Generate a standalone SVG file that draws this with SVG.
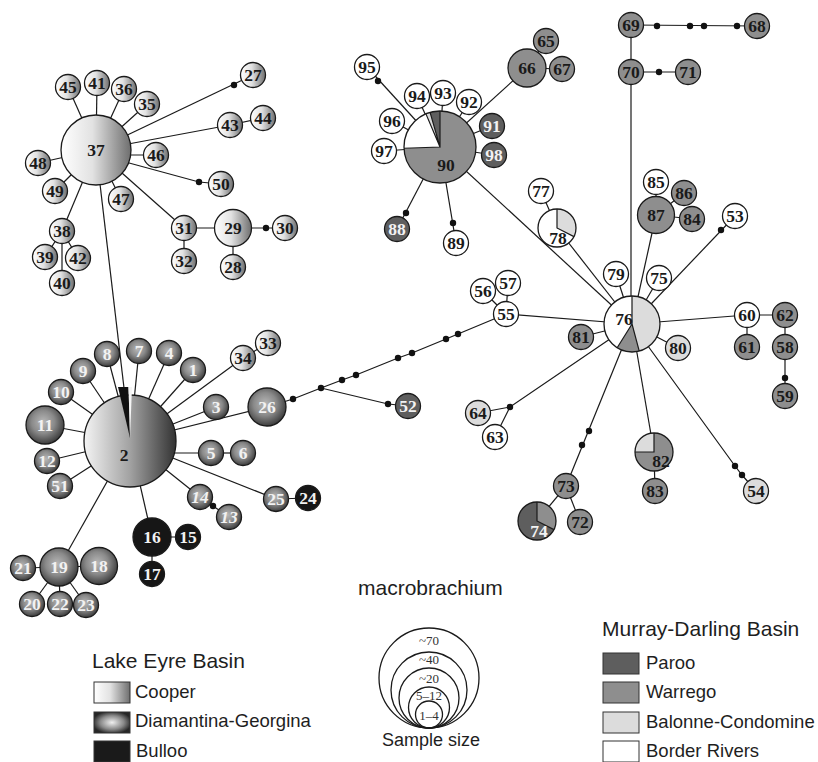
<svg xmlns="http://www.w3.org/2000/svg" width="818" height="762" viewBox="0 0 818 762">
<defs>
<linearGradient id="gCoop" x1="0" y1="0" x2="1" y2="0"><stop offset="0" stop-color="#ffffff"/><stop offset="0.45" stop-color="#e2e2e2"/><stop offset="1" stop-color="#6e6e6e"/></linearGradient>
<linearGradient id="g2" x1="0" y1="0" x2="1" y2="0"><stop offset="0" stop-color="#f4f4f4"/><stop offset="0.5" stop-color="#a2a2a2"/><stop offset="1" stop-color="#333333"/></linearGradient>
<radialGradient id="gDia" cx="0.45" cy="0.42" r="0.6"><stop offset="0" stop-color="#b8b8b8"/><stop offset="0.5" stop-color="#8a8a8a"/><stop offset="1" stop-color="#383838"/></radialGradient>
<radialGradient id="gDiaL" cx="0.5" cy="0.5" r="0.55"><stop offset="0" stop-color="#f0f0f0"/><stop offset="0.6" stop-color="#888888"/><stop offset="1" stop-color="#262626"/></radialGradient>
<style>
.e{stroke:#1a1a1a;stroke-width:1.2;fill:none}
.d{fill:#111111}
.n{stroke:#1a1a1a;stroke-width:1.3}
.o{fill:none;stroke:#1a1a1a;stroke-width:1.3}
.coop{fill:url(#gCoop)}
.dia{fill:url(#gDia)}
.bul{fill:#161616}
.par{fill:#5e5e5e}
.war{fill:#8e8e8e}
.bal{fill:#dcdcdc}
.bor{fill:#ffffff}
.t{font-family:"Liberation Serif","Times New Roman",serif;font-weight:bold;font-size:17.5px;text-anchor:middle}
.td{fill:#1a1a1a}
.tl{fill:#f2f2f2}
.it{font-style:italic}
.lg{font-family:"Liberation Sans",Arial,sans-serif;fill:#1e1e1e}
.h{font-size:21px}
.li{font-size:18.5px}
.box{stroke:#333333;stroke-width:1}
.ss{font-family:"Liberation Serif","Times New Roman",serif;font-size:13px;fill:#333333;text-anchor:middle}
</style>
</defs>
<rect width="818" height="762" fill="#ffffff"/>
<g id="connectors">
<line class="e" x1="96" y1="150" x2="68" y2="87"/>
<line class="e" x1="96" y1="150" x2="97" y2="83"/>
<line class="e" x1="96" y1="150" x2="124" y2="89"/>
<line class="e" x1="96" y1="150" x2="147" y2="104"/>
<line class="e" x1="96" y1="150" x2="253" y2="75"/>
<line class="e" x1="96" y1="150" x2="230" y2="125"/>
<line class="e" x1="230" y1="125" x2="263" y2="118"/>
<line class="e" x1="96" y1="155" x2="156" y2="155"/>
<polyline class="e" points="96,154 199,182 221,184"/>
<line class="e" x1="96" y1="150" x2="121" y2="199"/>
<line class="e" x1="96" y1="150" x2="38" y2="163"/>
<line class="e" x1="96" y1="150" x2="55" y2="191"/>
<line class="e" x1="96" y1="150" x2="62" y2="231"/>
<line class="e" x1="62" y1="231" x2="45" y2="257"/>
<line class="e" x1="62" y1="231" x2="78" y2="258"/>
<line class="e" x1="62" y1="231" x2="62" y2="283"/>
<line class="e" x1="96" y1="150" x2="184" y2="228"/>
<line class="e" x1="184" y1="228" x2="184" y2="261"/>
<line class="e" x1="184" y1="228" x2="233" y2="228"/>
<line class="e" x1="233" y1="228" x2="285" y2="228"/>
<line class="e" x1="233" y1="228" x2="233" y2="267"/>
<line class="e" x1="96" y1="150" x2="124" y2="388"/>
<line class="e" x1="130" y1="441" x2="107" y2="354"/>
<line class="e" x1="130" y1="441" x2="139" y2="351"/>
<line class="e" x1="130" y1="441" x2="169" y2="353"/>
<line class="e" x1="130" y1="441" x2="193" y2="370"/>
<line class="e" x1="130" y1="441" x2="83" y2="371"/>
<line class="e" x1="130" y1="441" x2="61" y2="392"/>
<line class="e" x1="130" y1="441" x2="45" y2="425"/>
<line class="e" x1="130" y1="441" x2="47" y2="461"/>
<line class="e" x1="130" y1="441" x2="60" y2="486"/>
<line class="e" x1="130" y1="441" x2="216" y2="407"/>
<line class="e" x1="130" y1="441" x2="267" y2="407"/>
<line class="e" x1="130" y1="453" x2="211" y2="453"/>
<line class="e" x1="211" y1="453" x2="243" y2="453"/>
<line class="e" x1="130" y1="441" x2="200" y2="497"/>
<line class="e" x1="200" y1="497" x2="229" y2="517"/>
<line class="e" x1="130" y1="441" x2="276" y2="499"/>
<line class="e" x1="276" y1="499" x2="308" y2="498"/>
<line class="e" x1="130" y1="441" x2="152" y2="537"/>
<line class="e" x1="152" y1="537" x2="188" y2="537"/>
<line class="e" x1="152" y1="537" x2="152" y2="574"/>
<line class="e" x1="130" y1="441" x2="59" y2="567"/>
<line class="e" x1="59" y1="567" x2="23" y2="568"/>
<line class="e" x1="59" y1="567" x2="99" y2="566"/>
<line class="e" x1="59" y1="567" x2="32" y2="604"/>
<line class="e" x1="59" y1="567" x2="60" y2="604"/>
<line class="e" x1="59" y1="567" x2="86" y2="605"/>
<line class="e" x1="130" y1="441" x2="243" y2="358"/>
<line class="e" x1="243" y1="358" x2="268" y2="343"/>
<polyline class="e" points="267,407 293,399 321,388 342,380 356,375 398,358 412,353 446,339 458,334 506,314"/>
<polyline class="e" points="321,388 388,404 408,406"/>
<line class="e" x1="440" y1="147" x2="367" y2="67"/>
<line class="e" x1="440" y1="147" x2="417" y2="96"/>
<line class="e" x1="440" y1="147" x2="443" y2="93"/>
<line class="e" x1="440" y1="147" x2="469" y2="102"/>
<line class="e" x1="440" y1="147" x2="392" y2="121"/>
<line class="e" x1="440" y1="147" x2="384" y2="151"/>
<line class="e" x1="440" y1="147" x2="492" y2="126"/>
<line class="e" x1="440" y1="147" x2="494" y2="155"/>
<line class="e" x1="440" y1="147" x2="397" y2="229"/>
<line class="e" x1="440" y1="147" x2="456" y2="243"/>
<line class="e" x1="440" y1="147" x2="527" y2="68"/>
<line class="e" x1="527" y1="68" x2="546" y2="41"/>
<line class="e" x1="527" y1="68" x2="562" y2="69"/>
<line class="e" x1="440" y1="147" x2="632" y2="324"/>
<line class="e" x1="631" y1="25" x2="757" y2="26"/>
<line class="e" x1="631" y1="25" x2="631" y2="72"/>
<line class="e" x1="631" y1="72" x2="688" y2="72"/>
<line class="e" x1="631" y1="72" x2="631" y2="310"/>
<line class="e" x1="632" y1="324" x2="557" y2="228"/>
<line class="e" x1="557" y1="228" x2="541" y2="191"/>
<line class="e" x1="632" y1="324" x2="656" y2="215"/>
<line class="e" x1="656" y1="215" x2="656" y2="182"/>
<line class="e" x1="656" y1="215" x2="684" y2="193"/>
<line class="e" x1="656" y1="215" x2="692" y2="219"/>
<line class="e" x1="632" y1="324" x2="735" y2="216"/>
<line class="e" x1="632" y1="324" x2="616" y2="274"/>
<line class="e" x1="632" y1="324" x2="659" y2="278"/>
<line class="e" x1="632" y1="324" x2="747" y2="315"/>
<line class="e" x1="747" y1="315" x2="785" y2="315"/>
<line class="e" x1="747" y1="315" x2="747" y2="347"/>
<line class="e" x1="785" y1="315" x2="785" y2="396"/>
<line class="e" x1="632" y1="324" x2="678" y2="348"/>
<line class="e" x1="632" y1="324" x2="581" y2="337"/>
<line class="e" x1="632" y1="324" x2="506" y2="314"/>
<line class="e" x1="506" y1="314" x2="483" y2="291"/>
<line class="e" x1="506" y1="314" x2="508" y2="283"/>
<polyline class="e" points="632,324 510,407 478,413"/>
<line class="e" x1="510" y1="407" x2="495" y2="437"/>
<line class="e" x1="632" y1="324" x2="566" y2="486"/>
<line class="e" x1="566" y1="486" x2="537" y2="521"/>
<line class="e" x1="566" y1="486" x2="580" y2="522"/>
<line class="e" x1="632" y1="324" x2="654" y2="452"/>
<line class="e" x1="654" y1="452" x2="655" y2="491"/>
<polyline class="e" points="632,324 735,466 742,475 756,491"/>
<circle class="d" cx="234" cy="85" r="3.2"/>
<circle class="d" cx="199" cy="182" r="3.2"/>
<circle class="d" cx="266" cy="228" r="3.2"/>
<circle class="d" cx="213" cy="506" r="3.2"/>
<circle class="d" cx="293" cy="399" r="3.2"/>
<circle class="d" cx="321" cy="388" r="3.2"/>
<circle class="d" cx="342" cy="380" r="3.2"/>
<circle class="d" cx="356" cy="375" r="3.2"/>
<circle class="d" cx="398" cy="358" r="3.2"/>
<circle class="d" cx="412" cy="353" r="3.2"/>
<circle class="d" cx="446" cy="339" r="3.2"/>
<circle class="d" cx="458" cy="334" r="3.2"/>
<circle class="d" cx="388" cy="404" r="3.2"/>
<circle class="d" cx="378" cy="81" r="3.2"/>
<circle class="d" cx="406" cy="213" r="3.2"/>
<circle class="d" cx="453" cy="223" r="3.2"/>
<circle class="d" cx="657" cy="26" r="3.2"/>
<circle class="d" cx="690" cy="26" r="3.2"/>
<circle class="d" cx="704" cy="26" r="3.2"/>
<circle class="d" cx="737" cy="26" r="3.2"/>
<circle class="d" cx="659" cy="72" r="3.2"/>
<circle class="d" cx="721" cy="230" r="3.2"/>
<circle class="d" cx="785" cy="378" r="3.2"/>
<circle class="d" cx="510" cy="407" r="3.2"/>
<circle class="d" cx="589" cy="431" r="3.2"/>
<circle class="d" cx="582" cy="445" r="3.2"/>
<circle class="d" cx="735" cy="466" r="3.2"/>
<circle class="d" cx="742" cy="475" r="3.2"/>
</g>
<g id="n37"><circle class="n coop" cx="96" cy="150" r="35"/><text class="t td" x="96" y="156">37</text></g>
<g id="n45"><circle class="n coop" cx="68" cy="87" r="12.5"/><text class="t td" x="68" y="93">45</text></g>
<g id="n41"><circle class="n coop" cx="97" cy="83" r="12.5"/><text class="t td" x="97" y="89">41</text></g>
<g id="n36"><circle class="n coop" cx="124" cy="89" r="12.5"/><text class="t td" x="124" y="95">36</text></g>
<g id="n35"><circle class="n coop" cx="147" cy="104" r="12.5"/><text class="t td" x="147" y="110">35</text></g>
<g id="n27"><circle class="n coop" cx="253" cy="75" r="12.5"/><text class="t td" x="253" y="81">27</text></g>
<g id="n43"><circle class="n coop" cx="230" cy="125" r="12.5"/><text class="t td" x="230" y="131">43</text></g>
<g id="n44"><circle class="n coop" cx="263" cy="118" r="12.5"/><text class="t td" x="263" y="124">44</text></g>
<g id="n46"><circle class="n coop" cx="156" cy="155" r="12.5"/><text class="t td" x="156" y="161">46</text></g>
<g id="n50"><circle class="n coop" cx="221" cy="184" r="12.5"/><text class="t td" x="221" y="190">50</text></g>
<g id="n47"><circle class="n coop" cx="121" cy="199" r="12.5"/><text class="t td" x="121" y="205">47</text></g>
<g id="n48"><circle class="n coop" cx="38" cy="163" r="12.5"/><text class="t td" x="38" y="169">48</text></g>
<g id="n49"><circle class="n coop" cx="55" cy="191" r="12.5"/><text class="t td" x="55" y="197">49</text></g>
<g id="n38"><circle class="n coop" cx="62" cy="231" r="12.5"/><text class="t td" x="62" y="237">38</text></g>
<g id="n39"><circle class="n coop" cx="45" cy="257" r="12.5"/><text class="t td" x="45" y="263">39</text></g>
<g id="n42"><circle class="n coop" cx="78" cy="258" r="12.5"/><text class="t td" x="78" y="264">42</text></g>
<g id="n40"><circle class="n coop" cx="62" cy="283" r="12.5"/><text class="t td" x="62" y="289">40</text></g>
<g id="n31"><circle class="n coop" cx="184" cy="228" r="12.5"/><text class="t td" x="184" y="234">31</text></g>
<g id="n32"><circle class="n coop" cx="184" cy="261" r="12.5"/><text class="t td" x="184" y="267">32</text></g>
<g id="n29"><circle class="n coop" cx="233" cy="228" r="18.5"/><text class="t td" x="233" y="234">29</text></g>
<g id="n28"><circle class="n coop" cx="233" cy="267" r="12.5"/><text class="t td" x="233" y="273">28</text></g>
<g id="n30"><circle class="n coop" cx="285" cy="228" r="12.5"/><text class="t td" x="285" y="234">30</text></g>
<g id="n34"><circle class="n coop" cx="243" cy="358" r="12.5"/><text class="t td" x="243" y="364">34</text></g>
<g id="n33"><circle class="n coop" cx="268" cy="343" r="12.5"/><text class="t td" x="268" y="349">33</text></g>
<g id="n2"><circle class="n" fill="url(#g2)" cx="130" cy="441" r="46"/><polygon fill="#111111" points="130,438 118,387 128.5,387"/><polygon fill="#f4f4f4" points="130,438 128.5,387 132,387"/><text class="t td" x="124" y="461">2</text></g>
<g id="n1"><circle class="n dia" cx="193" cy="370" r="12.5"/><text class="t tl" x="193" y="376">1</text></g>
<g id="n3"><circle class="n dia" cx="216" cy="407" r="12.5"/><text class="t tl" x="216" y="413">3</text></g>
<g id="n4"><circle class="n dia" cx="169" cy="353" r="12.5"/><text class="t tl" x="169" y="359">4</text></g>
<g id="n5"><circle class="n dia" cx="211" cy="453" r="12.5"/><text class="t tl" x="211" y="459">5</text></g>
<g id="n6"><circle class="n dia" cx="243" cy="453" r="12.5"/><text class="t tl" x="243" y="459">6</text></g>
<g id="n7"><circle class="n dia" cx="139" cy="351" r="12.5"/><text class="t tl" x="139" y="357">7</text></g>
<g id="n8"><circle class="n dia" cx="107" cy="354" r="12.5"/><text class="t tl" x="107" y="360">8</text></g>
<g id="n9"><circle class="n dia" cx="83" cy="371" r="12.5"/><text class="t tl" x="83" y="377">9</text></g>
<g id="n10"><circle class="n dia" cx="61" cy="392" r="12.5"/><text class="t tl" x="61" y="398">10</text></g>
<g id="n11"><circle class="n dia" cx="45" cy="425" r="19"/><text class="t tl" x="45" y="431">11</text></g>
<g id="n12"><circle class="n dia" cx="47" cy="461" r="12.5"/><text class="t tl" x="47" y="467">12</text></g>
<g id="n51"><circle class="n dia" cx="60" cy="486" r="12.5"/><text class="t tl" x="60" y="492">51</text></g>
<g id="n14"><circle class="n dia" cx="200" cy="497" r="12.5"/><text class="t tl it" x="200" y="503">14</text></g>
<g id="n13"><circle class="n dia" cx="229" cy="517" r="12.5"/><text class="t tl it" x="229" y="523">13</text></g>
<g id="n25"><circle class="n dia" cx="276" cy="499" r="12.5"/><text class="t tl" x="276" y="505">25</text></g>
<g id="n26"><circle class="n dia" cx="267" cy="407" r="19"/><text class="t tl" x="267" y="413">26</text></g>
<g id="n19"><circle class="n dia" cx="59" cy="567" r="19"/><text class="t tl" x="59" y="573">19</text></g>
<g id="n18"><circle class="n dia" cx="99" cy="566" r="18.5"/><text class="t tl" x="99" y="572">18</text></g>
<g id="n21"><circle class="n dia" cx="23" cy="568" r="12.5"/><text class="t tl" x="23" y="574">21</text></g>
<g id="n20"><circle class="n dia" cx="32" cy="604" r="12.5"/><text class="t tl" x="32" y="610">20</text></g>
<g id="n22"><circle class="n dia" cx="60" cy="604" r="12.5"/><text class="t tl" x="60" y="610">22</text></g>
<g id="n23"><circle class="n dia" cx="86" cy="605" r="12.5"/><text class="t tl" x="86" y="611">23</text></g>
<g id="n16"><circle class="n bul" cx="152" cy="537" r="19"/><text class="t tl" x="152" y="543">16</text></g>
<g id="n15"><circle class="n bul" cx="188" cy="537" r="12.5"/><text class="t tl" x="188" y="543">15</text></g>
<g id="n17"><circle class="n bul" cx="152" cy="574" r="12.5"/><text class="t tl" x="152" y="580">17</text></g>
<g id="n24"><circle class="n bul" cx="308" cy="498" r="12.5"/><text class="t tl" x="308" y="504">24</text></g>
<g id="n52"><circle class="n par" cx="408" cy="406" r="12.5"/><text class="t tl" x="408" y="412">52</text></g>
<g id="n90"><path class="war" d="M440,147 L440,111 A36,36 0 1,1 404.02,148.26 Z"/><path class="bor" d="M440,147 L404.02,148.26 A36,36 0 0,1 425.93,113.86 Z"/><path class="bal" d="M440,147 L425.93,113.86 A36,36 0 0,1 430.08,112.39 Z"/><path class="par" d="M440,147 L430.08,112.39 A36,36 0 0,1 440,111 Z"/><path class="e" d="M404.02,148.26 L440,147 L425.93,113.86 M430.08,112.39 L440,147 L440,111"/><circle class="o" cx="440" cy="147" r="36"/><text class="t td" x="446" y="171">90</text></g>
<g id="n95"><circle class="n bor" cx="367" cy="67" r="12.5"/><text class="t td" x="367" y="73">95</text></g>
<g id="n94"><circle class="n bor" cx="417" cy="96" r="12.5"/><text class="t td" x="417" y="102">94</text></g>
<g id="n93"><circle class="n bor" cx="443" cy="93" r="12.5"/><text class="t td" x="443" y="99">93</text></g>
<g id="n92"><circle class="n bor" cx="469" cy="102" r="12.5"/><text class="t td" x="469" y="108">92</text></g>
<g id="n96"><circle class="n bor" cx="392" cy="121" r="12.5"/><text class="t td" x="392" y="127">96</text></g>
<g id="n97"><circle class="n bor" cx="384" cy="151" r="12.5"/><text class="t td" x="384" y="157">97</text></g>
<g id="n91"><circle class="n par" cx="492" cy="126" r="12.5"/><text class="t tl" x="492" y="132">91</text></g>
<g id="n98"><circle class="n par" cx="494" cy="155" r="12.5"/><text class="t tl" x="494" y="161">98</text></g>
<g id="n88"><circle class="n par" cx="397" cy="229" r="12.5"/><text class="t tl" x="397" y="235">88</text></g>
<g id="n89"><circle class="n bor" cx="456" cy="243" r="12.5"/><text class="t td" x="456" y="249">89</text></g>
<g id="n66"><circle class="n war" cx="527" cy="68" r="19"/><text class="t td" x="527" y="74">66</text></g>
<g id="n65"><circle class="n war" cx="546" cy="41" r="12.5"/><text class="t td" x="546" y="47">65</text></g>
<g id="n67"><circle class="n war" cx="562" cy="69" r="12.5"/><text class="t td" x="562" y="75">67</text></g>
<g id="n69"><circle class="n war" cx="631" cy="25" r="12.5"/><text class="t td" x="631" y="31">69</text></g>
<g id="n68"><circle class="n war" cx="757" cy="26" r="12.5"/><text class="t td" x="757" y="32">68</text></g>
<g id="n70"><circle class="n war" cx="631" cy="72" r="12.5"/><text class="t td" x="631" y="78">70</text></g>
<g id="n71"><circle class="n war" cx="688" cy="72" r="12.5"/><text class="t td" x="688" y="78">71</text></g>
<g id="n77"><circle class="n bor" cx="541" cy="191" r="12.5"/><text class="t td" x="541" y="197">77</text></g>
<g id="n78"><path class="bal" d="M557,228 L557,209 A19,19 0 0,1 573.93,236.63 Z"/><path class="bor" d="M557,228 L573.93,236.63 A19,19 0 1,1 557,209 Z"/><path class="e" d="M557,209 L557,228 L573.93,236.63"/><circle class="o" cx="557" cy="228" r="19"/><text class="t td" x="558" y="244">78</text></g>
<g id="n85"><circle class="n bor" cx="656" cy="182" r="12.5"/><text class="t td" x="656" y="188">85</text></g>
<g id="n86"><circle class="n war" cx="684" cy="193" r="12.5"/><text class="t td" x="684" y="199">86</text></g>
<g id="n87"><circle class="n war" cx="656" cy="215" r="18.5"/><text class="t td" x="656" y="221">87</text></g>
<g id="n84"><circle class="n war" cx="692" cy="219" r="12.5"/><text class="t td" x="692" y="225">84</text></g>
<g id="n53"><circle class="n bor" cx="735" cy="216" r="12.5"/><text class="t td" x="735" y="222">53</text></g>
<g id="n79"><circle class="n bor" cx="616" cy="274" r="12.5"/><text class="t td" x="616" y="280">79</text></g>
<g id="n75"><circle class="n bor" cx="659" cy="278" r="12.5"/><text class="t td" x="659" y="284">75</text></g>
<g id="n76"><path class="bal" d="M632,324 L632,296 A28,28 0 0,1 639.25,351.05 Z"/><path class="war" d="M632,324 L639.25,351.05 A28,28 0 0,1 617.16,347.74 Z"/><path class="bor" d="M632,324 L617.16,347.74 A28,28 0 0,1 632,296 Z"/><path class="e" d="M632,296 L632,324 L639.25,351.05 M632,324 L617.16,347.74"/><circle class="o" cx="632" cy="324" r="28"/><text class="t td" x="624" y="325">76</text></g>
<g id="n55"><circle class="n bor" cx="506" cy="314" r="12.5"/><text class="t td" x="506" y="320">55</text></g>
<g id="n56"><circle class="n bor" cx="483" cy="291" r="12.5"/><text class="t td" x="483" y="297">56</text></g>
<g id="n57"><circle class="n bor" cx="508" cy="283" r="12.5"/><text class="t td" x="508" y="289">57</text></g>
<g id="n81"><circle class="n war" cx="581" cy="337" r="12.5"/><text class="t td" x="581" y="343">81</text></g>
<g id="n80"><circle class="n bal" cx="678" cy="348" r="12.5"/><text class="t td" x="678" y="354">80</text></g>
<g id="n60"><circle class="n bor" cx="747" cy="315" r="12.5"/><text class="t td" x="747" y="321">60</text></g>
<g id="n62"><circle class="n war" cx="785" cy="315" r="12.5"/><text class="t td" x="785" y="321">62</text></g>
<g id="n61"><circle class="n war" cx="747" cy="347" r="12.5"/><text class="t td" x="747" y="353">61</text></g>
<g id="n58"><circle class="n war" cx="785" cy="347" r="12.5"/><text class="t td" x="785" y="353">58</text></g>
<g id="n59"><circle class="n war" cx="785" cy="396" r="12.5"/><text class="t td" x="785" y="402">59</text></g>
<g id="n64"><circle class="n bal" cx="478" cy="413" r="12.5"/><text class="t td" x="478" y="419">64</text></g>
<g id="n63"><circle class="n bor" cx="495" cy="437" r="12.5"/><text class="t td" x="495" y="443">63</text></g>
<g id="n73"><circle class="n war" cx="566" cy="486" r="12.5"/><text class="t td" x="566" y="492">73</text></g>
<g id="n74"><path class="war" d="M537,521 L537,502 A19,19 0 0,1 553.93,529.63 Z"/><path class="par" d="M537,521 L553.93,529.63 A19,19 0 1,1 537,502 Z"/><path class="e" d="M537,502 L537,521 L553.93,529.63"/><circle class="o" cx="537" cy="521" r="19"/><text class="t tl" x="539" y="537">74</text></g>
<g id="n72"><circle class="n war" cx="580" cy="522" r="12.5"/><text class="t td" x="580" y="528">72</text></g>
<g id="n82"><path class="bal" d="M654,452 L635,452 A19,19 0 0,1 654,433 Z"/><path class="war" d="M654,452 L654,433 A19,19 0 1,1 635,452 Z"/><path class="e" d="M635,452 L654,452 L654,433"/><circle class="o" cx="654" cy="452" r="19"/><text class="t td" x="661" y="467">82</text></g>
<g id="n83"><circle class="n war" cx="655" cy="491" r="12.5"/><text class="t td" x="655" y="497">83</text></g>
<g id="n54"><circle class="n bal" cx="756" cy="491" r="12.5"/><text class="t td" x="756" y="497">54</text></g>
<g id="title"><text class="lg h" x="358" y="595">macrobrachium</text></g>
<g id="legend-lake-eyre">
<text class="lg h" x="92" y="668">Lake Eyre Basin</text>
<rect class="box" x="94" y="682" width="36" height="21" fill="url(#gCoop)"/>
<text class="lg li" x="135" y="698">Cooper</text>
<rect class="box" x="94" y="712" width="36" height="21" fill="url(#gDiaL)"/>
<text class="lg li" x="135" y="727">Diamantina-Georgina</text>
<rect class="box" x="94" y="741" width="36" height="21" fill="#1a1a1a"/>
<text class="lg li" x="136" y="757">Bulloo</text>
</g>
<g id="legend-sample-size">
<circle class="o" cx="429" cy="678" r="50"/>
<circle class="o" cx="429" cy="690" r="38"/>
<circle class="o" cx="429" cy="698" r="30"/>
<circle class="o" cx="429" cy="707.5" r="20.5"/>
<circle class="o" cx="429" cy="714.5" r="13.5"/>
<text class="ss" x="429" y="645">~70</text>
<text class="ss" x="429" y="664">~40</text>
<text class="ss" x="429" y="683">~20</text>
<text class="ss" x="429" y="700">5–12</text>
<text class="ss" x="429" y="720">1–4</text>
<text class="lg" x="431" y="746" font-size="18" text-anchor="middle">Sample size</text>
</g>
<g id="legend-murray-darling">
<text class="lg h" x="602" y="636">Murray-Darling Basin</text>
<rect class="box par" x="603" y="653" width="36" height="21"/>
<text class="lg li" x="646" y="669">Paroo</text>
<rect class="box war" x="603" y="682" width="36" height="21"/>
<text class="lg li" x="646" y="698">Warrego</text>
<rect class="box bal" x="603" y="712" width="36" height="21"/>
<text class="lg li" x="646" y="728">Balonne-Condomine</text>
<rect class="box bor" x="603" y="741" width="36" height="21"/>
<text class="lg li" x="646" y="757">Border Rivers</text>
</g>
</svg>
